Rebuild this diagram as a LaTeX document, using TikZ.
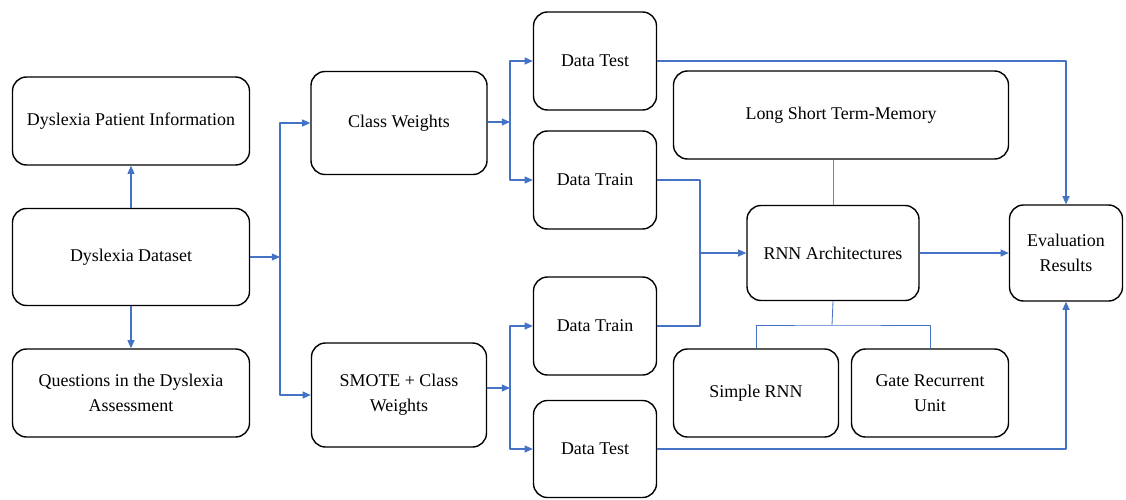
\documentclass[tikz,border=0pt]{standalone}
\usepackage{fontspec}
\setmainfont{Liberation Serif}
\usetikzlibrary{arrows.meta}
\definecolor{flowblue}{HTML}{4472C4}
\begin{document}
\begin{tikzpicture}[x=0.03cm,y=-0.03cm,>={Triangle[width=6pt,length=7pt]}, font=\fontsize{15.3}{21.5}\selectfont, line join=round]
	\tikzset{box/.style 2 args={draw,line width=1.2pt,rounded corners=0.42cm,align=center,inner sep=2pt,
			minimum width=#1*0.03cm,minimum height=#2*0.03cm},
		flow/.style={draw=flowblue,line width=1pt}}
	\useasboundingbox (0,0) rectangle (1126,499);
	% left column
	\node[box={237}{88}] (info) at (131,121) {Dyslexia Patient Information};
	\node[box={237}{97}] (data) at (131,257) {Dyslexia Dataset};
	\node[box={237}{88}] (quest) at (131,393) {Questions in the Dyslexia\\Assessment};
	% balancing
	\node[box={176}{103}] (cw) at (399,123) {Class Weights};
	\node[box={175}{104}] (smote) at (399,395) {SMOTE + Class\\Weights};
	% splits
	\node[box={123}{98}] (test1) at (595,61) {Data Test};
	\node[box={123}{98}] (train1) at (595,180) {Data Train};
	\node[box={123}{98}] (train2) at (595,326) {Data Train};
	\node[box={123}{97}] (test2) at (595,449) {Data Test};
	% models
	\node[box={335}{88}] (lstm) at (841,115) {Long Short Term-Memory};
	\node[box={172}{95}] (rnn) at (833,253) {RNN Architectures};
	\node[box={165}{88}] (simple) at (756,393) {Simple RNN};
	\node[box={157}{88}] (gru) at (930,393) {Gate Recurrent\\Unit};
	\node[box={113}{96}] (eval) at (1066,253) {Evaluation\\Results};
	% junctions
	\coordinate (j1) at (280,257);
	\coordinate (j2) at (510,122);
	\coordinate (j3) at (510,388);
	\coordinate (j4) at (700,253);
	\coordinate (j5) at (832,325);
	% connectors
	\draw[flow,->] (data.north) -- (info.south);
	\draw[flow,->] (data.south) -- (quest.north);
	\draw[flow,->] (data.east) -- (j1);
	\draw[flow,->] (j1) |- (cw.west);
	\draw[flow,->] (j1) |- (smote.west);
	\draw[flow,->] (cw.east |- j2) -- (j2);
	\draw[flow,->] (j2) |- (test1.west);
	\draw[flow,->] (j2) |- (train1.west);
	\draw[flow,->] (smote.east |- j3) -- (j3);
	\draw[flow,->] (j3) |- (train2.west);
	\draw[flow,->] (j3) |- (test2.west);
	\draw[flow] (train1.east) -| (j4);
	\draw[flow] (train2.east) -| (j4);
	\draw[flow,->] (j4) -- (rnn.west);
	\draw[gray,line width=0.6pt] (rnn.north |- lstm.south) -- (rnn.north);
	\draw[flow,line width=0.7pt] (rnn.south) -- (j5);
	\draw[flow,line width=0.7pt] (simple.north) |- (j5) -| (gru.north);
	\draw[flow,->] (rnn.east) -- (eval.west);
	\draw[flow,->] (test1.east) -| (eval.north);
	\draw[flow,->] (test2.east) -| (eval.south);
\end{tikzpicture}
\end{document}
